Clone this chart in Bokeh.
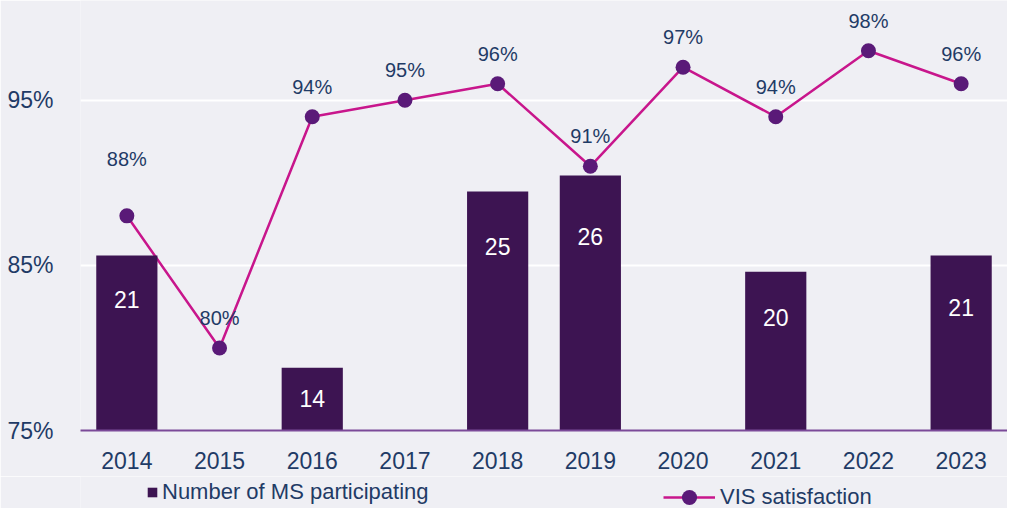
from bokeh.plotting import figure
from bokeh.models import (ColumnDataSource, FactorRange, Range1d, FixedTicker,
                          Legend, LegendItem)
from bokeh.layouts import column
from bokeh.core.properties import value
from bokeh.embed import file_html
from bokeh.resources import INLINE

# ---- data ----
years = ["2014", "2015", "2016", "2017", "2018", "2019", "2020", "2021", "2022", "2023"]
satisfaction = [88, 80, 94, 95, 96, 91, 97, 94, 98, 96]
bar_years = ["2014", "2016", "2018", "2019", "2021", "2023"]
ms_participating = [21, 14, 25, 26, 20, 21]
y_ticks = [75, 85, 95]
y_tick_labels = ["75%", "85%", "95%"]
series_names = ["Number of MS participating", "VIS satisfaction"]

# ---- styles ----
FONT = "Liberation Sans"
TXT = "#1f3b66"
BG = "#efeff4"
BAR = "#3d1452"
LINE = "#c8168c"
MARK = "#5a1a78"

sat_labels = [f"{v}%" for v in satisfaction]
sat_offsets = [-30] * len(satisfaction)
sat_offsets[0] = -57
bar_label_offsets = [44, 31, 55, 61, 46, 52]

p = figure(width=1007, height=476, x_range=FactorRange(*years),
           y_range=Range1d(75, 101.04), output_backend="svg",
           toolbar_location=None, min_border_left=80, min_border_right=0,
           min_border_top=0, min_border_bottom=46)
p.extra_y_ranges = {"ms": Range1d(10.08, 36.93)}

p.background_fill_color = BG
p.border_fill_color = BG
p.outline_line_color = None

# axes
p.yaxis.ticker = FixedTicker(ticks=y_ticks)
p.yaxis.major_label_overrides = {t: l for t, l in zip(y_ticks, y_tick_labels)}
p.yaxis.axis_line_color = None
p.yaxis.major_tick_line_color = None
p.yaxis.minor_tick_line_color = None
p.yaxis.major_label_standoff = 21
p.yaxis.major_label_text_font = FONT
p.yaxis.major_label_text_font_size = "23px"
p.yaxis.major_label_text_color = TXT

p.xaxis.axis_line_color = "#7b4a98"
p.xaxis.axis_line_width = 2
p.xaxis.major_tick_line_color = None
p.xaxis.minor_tick_line_color = None
p.xaxis.major_label_standoff = 15
p.xaxis.major_label_text_font = FONT
p.xaxis.major_label_text_font_size = "23px"
p.xaxis.major_label_text_color = TXT

p.xgrid.grid_line_color = None
p.ygrid.ticker = FixedTicker(ticks=y_ticks)
p.ygrid.grid_line_color = "white"
p.ygrid.grid_line_width = 2

# line (behind bars)
src = ColumnDataSource(dict(x=years, y=satisfaction, lab=sat_labels, off=sat_offsets))
ln = p.line("x", "y", source=src, line_color=LINE, line_width=2.5)

bsrc = ColumnDataSource(dict(x=bar_years, y=ms_participating,
                             lab=[str(v) for v in ms_participating], off=bar_label_offsets))
bars = p.vbar(x="x", top="y", bottom=0, width=0.66, source=bsrc, y_range_name="ms",
              fill_color=BAR, line_color=None)

mk = p.scatter("x", "y", source=src, size=15, fill_color=MARK, line_color=None)

p.text("x", "y", text="lab", source=src, y_offset="off", text_align="center",
       text_baseline="middle", text_font=value(FONT), text_font_size="20px",
       text_color=TXT)
p.text("x", "y", text="lab", source=bsrc, y_offset="off", y_range_name="ms",
       text_align="center", text_baseline="middle", text_font=value(FONT),
       text_font_size="23px", text_color="white")

# ---- legend strip (separate small figure, same styles; frames align with main plot) ----
lg = figure(width=1007, height=32, x_range=Range1d(0, 1), y_range=Range1d(0, 1),
            output_backend="svg", toolbar_location=None,
            x_axis_location=None, y_axis_location=None,
            min_border_left=80, min_border_right=0, min_border_top=0, min_border_bottom=0)
lg.background_fill_color = BG
lg.border_fill_color = BG
lg.outline_line_color = None
lg.grid.visible = False

nan = float("nan")
lb = lg.vbar(x=[nan], top=[nan], width=0.1, fill_color=BAR, line_color=None)
ll = lg.line(x=[nan], y=[nan], line_color=LINE, line_width=2.5)
lm = lg.scatter(x=[nan], y=[nan], size=15, fill_color=MARK, line_color=None)

common = dict(padding=0, margin=0, border_line_color=None, background_fill_alpha=0,
              label_text_font=FONT, label_text_font_size="22px", label_text_color=TXT)
leg1 = Legend(items=[LegendItem(label=series_names[0], renderers=[lb], index=0)],
              location=(66, 3), glyph_width=12, glyph_height=12, label_standoff=4,
              label_height=12, **common)
leg2 = Legend(items=[LegendItem(label=series_names[1], renderers=[ll, lm], index=0)],
              location=(583, -8), glyph_width=52, glyph_height=38, label_standoff=5,
              label_height=38, **common)
lg.add_layout(leg1, "center")
lg.add_layout(leg2, "center")

layout = column(p, lg, spacing=0)
open("out.html", "w").write(file_html(layout, INLINE))
